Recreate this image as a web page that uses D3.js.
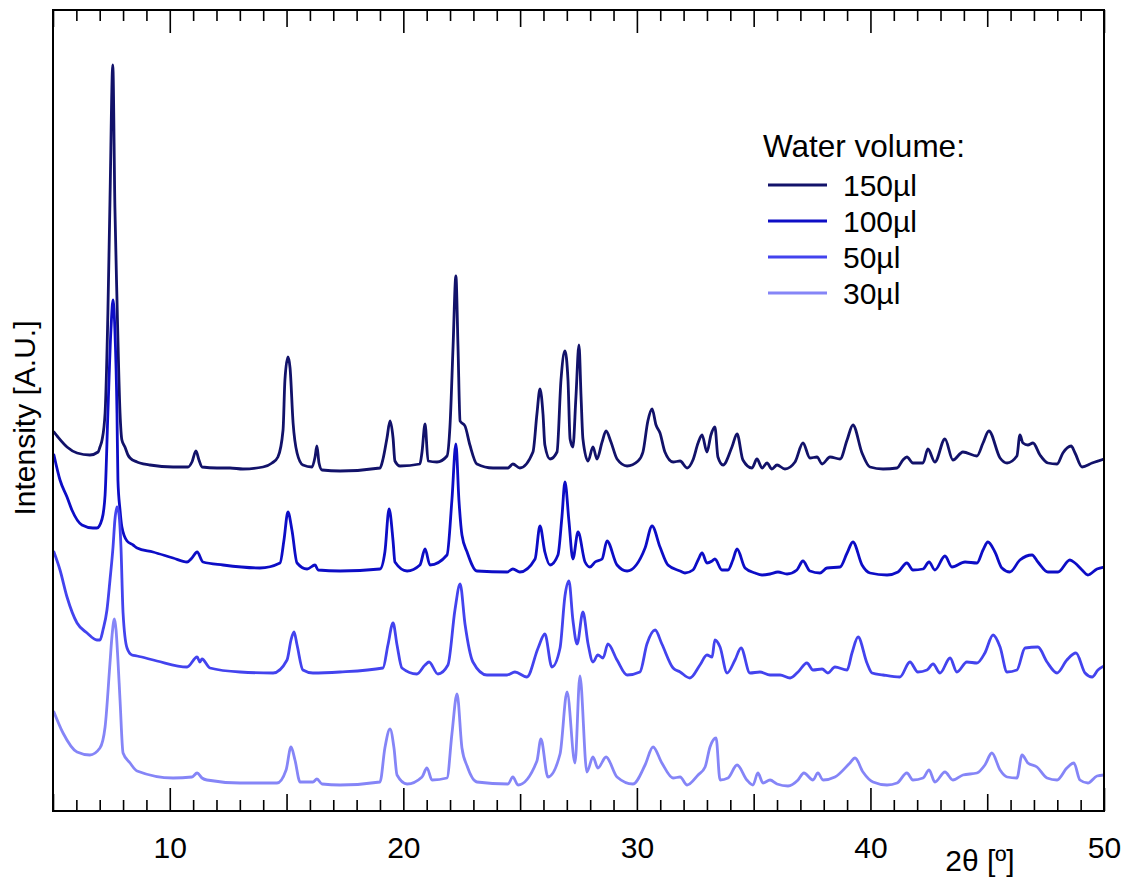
<!DOCTYPE html>
<html>
<head>
<meta charset="utf-8">
<script src="https://cdn.jsdelivr.net/npm/d3@7"></script>
<style>
  html, body { margin: 0; padding: 0; background: #fff; }
  svg { display: block; font-family: "Liberation Sans", Arial, sans-serif; }
</style>
</head>
<body>
<svg id="chart" width="1128" height="877"></svg>
<script>
// XRD patterns (2θ in degrees, intensity in a.u., stacked with offsets)
const s150 = [
[5.04,379],[5.21,374],[5.60,364],[6.03,358],[6.58,356],[6.93,359],[7.01,364],[7.10,371],[7.23,398],[7.35,498],[7.44,611],[7.56,746],[7.65,604],[7.74,511],[7.87,398],[7.95,371],[8.08,364],[8.21,356],[8.30,353],[8.60,349],[8.72,348],[9.15,346],[10.14,344],[10.78,344],[10.95,349],[11.12,360],[11.25,351],[11.38,344],[12.02,343],[12.58,343],[13.13,342],[13.99,344],[14.38,348],[14.63,354],[14.85,381],[14.93,431],[15.06,454],[15.15,443],[15.28,388],[15.45,358],[15.70,346],[16.09,344],[16.22,354],[16.30,365],[16.39,348],[16.52,341],[17.29,340],[19.00,343],[19.13,352],[19.30,373],[19.43,390],[19.56,373],[19.64,350],[19.86,345],[20.71,347],[20.80,359],[20.93,387],[21.06,350],[21.44,349],[21.87,355],[22.00,386],[22.13,465],[22.25,535],[22.34,465],[22.43,390],[22.64,385],[22.85,366],[23.15,347],[23.84,343],[24.48,343],[24.69,347],[24.99,343],[25.55,359],[25.72,397],[25.85,422],[25.98,397],[26.06,366],[26.28,352],[26.58,359],[26.75,431],[26.92,460],[27.05,431],[27.14,372],[27.26,364],[27.39,414],[27.52,466],[27.61,414],[27.69,372],[27.91,350],[28.12,364],[28.29,352],[28.51,369],[28.68,380],[28.89,369],[29.15,352],[29.58,345],[30.05,350],[30.26,359],[30.47,390],[30.65,402],[30.82,386],[30.99,378],[31.20,359],[31.55,349],[31.85,350],[32.15,343],[32.40,351],[32.62,368],[32.79,376],[33.00,359],[33.17,376],[33.34,384],[33.47,354],[33.69,346],[34.07,364],[34.29,377],[34.54,351],[34.93,343],[35.14,352],[35.36,343],[35.57,348],[35.78,342],[36.00,346],[36.34,342],[36.77,349],[37.11,368],[37.41,353],[37.71,354],[37.93,347],[38.27,354],[38.70,352],[39.00,371],[39.25,386],[39.64,358],[39.98,344],[40.54,342],[41.14,343],[41.39,351],[41.56,354],[41.82,348],[42.25,348],[42.46,362],[42.76,349],[43.19,372],[43.53,351],[43.96,359],[44.56,355],[44.82,368],[45.07,380],[45.55,353],[45.85,348],[46.27,355],[46.40,376],[46.53,368],[46.74,366],[46.96,368],[47.26,356],[47.60,348],[47.99,347],[48.24,358],[48.59,365],[48.76,358],[49.06,344],[49.49,348],[50.00,352]
];

const s100 = [
[5.04,356],[5.30,331],[5.60,314],[5.81,301],[6.24,286],[6.71,283],[6.88,283],[7.10,292],[7.23,316],[7.35,398],[7.48,481],[7.57,511],[7.65,481],[7.74,398],[7.78,331],[7.87,301],[7.95,284],[8.17,270],[8.43,266],[8.60,263],[9.28,259],[10.14,253],[10.74,249],[10.95,253],[11.17,259],[11.42,249],[12.28,246],[13.86,243],[14.72,248],[14.89,271],[15.06,299],[15.23,281],[15.45,248],[15.88,242],[16.22,246],[16.35,241],[17.29,240],[19.00,242],[19.21,259],[19.39,302],[19.56,270],[19.64,249],[20.16,240],[20.71,246],[20.93,262],[21.14,246],[21.87,256],[22.08,311],[22.25,367],[22.38,311],[22.51,276],[22.73,259],[23.15,240],[24.44,239],[24.69,242],[24.99,239],[25.64,252],[25.85,285],[26.06,259],[26.28,246],[26.62,256],[26.79,294],[26.92,329],[27.09,290],[27.26,252],[27.48,279],[27.78,249],[27.99,244],[28.21,249],[28.51,252],[28.72,270],[29.15,246],[29.58,240],[30.35,263],[30.65,285],[30.99,264],[31.33,246],[31.85,240],[32.06,238],[32.40,241],[32.62,251],[32.79,258],[33.00,248],[33.22,250],[33.34,252],[33.64,241],[33.90,241],[34.11,251],[34.29,262],[34.63,243],[35.06,238],[35.36,236],[35.70,237],[36.04,239],[36.43,237],[36.85,241],[37.11,250],[37.41,240],[37.84,238],[38.14,243],[38.70,244],[39.00,258],[39.25,269],[39.64,246],[39.98,238],[40.71,236],[41.18,239],[41.56,248],[41.82,241],[42.25,242],[42.51,249],[42.76,241],[43.19,255],[43.49,244],[44.05,249],[44.56,248],[44.82,261],[45.03,269],[45.33,259],[45.63,243],[45.97,239],[46.40,251],[46.92,256],[47.17,249],[47.60,239],[48.03,239],[48.54,251],[48.76,248],[49.06,241],[49.31,236],[49.70,242],[50.00,244]
];

const s50 = [
[5.04,259],[5.30,241],[5.60,214],[6.03,188],[6.46,178],[6.88,171],[7.01,171],[7.14,181],[7.31,201],[7.44,231],[7.57,264],[7.65,291],[7.74,304],[7.83,296],[7.91,264],[8.00,198],[8.17,163],[8.38,156],[8.60,155],[9.45,150],[10.74,144],[11.17,154],[11.29,149],[11.38,152],[11.72,143],[13.01,139],[14.42,138],[15.02,151],[15.19,171],[15.32,179],[15.45,166],[15.70,141],[16.13,138],[17.29,139],[19.13,143],[19.34,166],[19.56,188],[19.73,166],[19.94,143],[20.58,137],[20.93,146],[21.10,149],[21.48,137],[21.91,146],[22.21,201],[22.43,227],[22.64,187],[22.98,149],[23.58,136],[24.44,136],[24.78,139],[25.29,134],[25.77,163],[26.06,177],[26.36,144],[26.71,163],[26.92,215],[27.09,230],[27.26,191],[27.44,167],[27.69,199],[27.91,167],[28.12,149],[28.33,156],[28.55,153],[28.76,167],[29.15,151],[29.58,136],[30.13,139],[30.43,167],[30.78,181],[31.07,167],[31.55,143],[31.85,139],[32.27,133],[32.70,146],[33.00,156],[33.22,154],[33.34,171],[33.56,164],[33.86,138],[34.20,151],[34.46,163],[34.84,138],[35.27,139],[35.70,136],[36.13,136],[36.56,133],[36.90,139],[37.28,148],[37.54,141],[37.93,142],[38.18,138],[38.48,144],[39.00,141],[39.21,158],[39.47,174],[39.85,148],[40.07,138],[40.54,136],[41.26,134],[41.69,149],[42.03,139],[42.42,141],[42.68,147],[42.98,138],[43.41,153],[43.70,139],[44.13,149],[44.56,148],[44.90,158],[45.25,176],[45.55,164],[45.85,139],[46.27,141],[46.62,163],[47.17,164],[47.56,149],[47.99,138],[48.41,151],[48.80,158],[49.19,138],[49.49,134],[49.74,141],[50.00,145]
];

const s30 = [
[5.04,99],[5.43,78],[6.03,59],[6.58,56],[7.01,63],[7.23,84],[7.44,148],[7.53,176],[7.63,192],[7.70,181],[7.78,151],[7.87,111],[8.00,58],[8.30,48],[8.60,40],[10.14,33],[10.95,34],[11.17,38],[11.38,33],[11.59,31],[13.01,28],[14.59,28],[14.98,41],[15.19,64],[15.36,51],[15.58,29],[16.13,29],[16.30,32],[16.52,27],[17.29,26],[19.00,29],[19.21,63],[19.43,82],[19.60,63],[19.73,36],[20.16,27],[20.80,34],[21.01,43],[21.23,31],[21.87,33],[22.08,77],[22.30,117],[22.51,63],[22.73,45],[23.15,29],[24.48,27],[24.69,34],[24.91,26],[25.72,50],[25.89,72],[26.19,34],[26.71,57],[27.01,119],[27.35,48],[27.56,135],[27.86,39],[28.12,54],[28.33,43],[28.68,54],[29.15,34],[29.83,27],[30.35,46],[30.69,64],[31.07,48],[31.55,33],[31.85,34],[32.15,26],[32.62,36],[32.92,44],[33.13,64],[33.39,73],[33.56,31],[33.90,33],[34.29,46],[34.71,31],[34.97,26],[35.18,38],[35.40,28],[35.70,31],[36.00,27],[36.47,25],[36.90,31],[37.15,38],[37.54,31],[37.75,38],[37.97,31],[38.48,34],[39.12,48],[39.34,53],[39.68,39],[40.11,29],[40.71,26],[41.14,28],[41.56,38],[41.82,31],[42.25,33],[42.51,41],[42.76,29],[43.19,39],[43.53,31],[43.96,36],[44.56,38],[44.90,46],[45.20,58],[45.55,41],[45.85,34],[46.27,33],[46.49,56],[46.74,48],[47.13,44],[47.56,33],[47.99,31],[48.41,43],[48.71,48],[48.97,31],[49.31,28],[49.70,35],[50.00,36]
];

const seriesNames = ["150µl", "100µl", "50µl", "30µl"];
const seriesData = [s150, s100, s50, s30];
const seriesColors = ["#12126a", "#0d0dc6", "#4343ee", "#8585f7"];

const majorTicks = [10, 20, 30, 40, 50];
const mediumTicks = [5, 15, 25, 35, 45];
const minorTicks = d3.range(6, 50).filter(v => v % 5 !== 0);

const legendTitle = "Water volume:";
const xLabel = "2θ [º]";
const yLabel = "Intensity [A.U.]";

// layout
const W = 1128, H = 877;
const plot = { left: 53, right: 1104, top: 10, bottom: 811 };
const fontSize = 30;

const svg = d3.select("#chart");

const x = d3.scaleLinear().domain([5, 50]).range([plot.left, plot.right]);
const y = d3.scaleLinear().domain([0, 801]).range([plot.bottom, plot.top]);

svg.append("defs").append("clipPath").attr("id", "plotclip")
  .append("rect")
  .attr("x", plot.left).attr("y", plot.top)
  .attr("width", plot.right - plot.left).attr("height", plot.bottom - plot.top);

// traces
const line = d3.line()
  .x(d => x(d[0]))
  .y(d => y(d[1]))
  .curve(d3.curveMonotoneX);

const traces = svg.append("g").attr("clip-path", "url(#plotclip)");
seriesData.forEach((data, i) => {
  traces.append("path")
    .datum(data)
    .attr("fill", "none")
    .attr("stroke", seriesColors[i])
    .attr("stroke-width", 2.8)
    .attr("stroke-linejoin", "round")
    .attr("stroke-linecap", "round")
    .attr("d", line);
});

// axes: inward ticks on bottom and mirrored on top
function tickLayer(axisFn, yPos, values, size, labels) {
  const ax = axisFn(x).tickValues(values).tickSize(-size).tickPadding(26);
  if (!labels) ax.tickFormat("");
  const g = svg.append("g").attr("transform", `translate(0,${yPos})`).call(ax);
  g.select(".domain").remove();
  g.selectAll(".tick line").attr("stroke", "#000").attr("stroke-width", 1.6);
  g.selectAll(".tick text")
    .attr("fill", "#000")
    .style("font-size", fontSize + "px")
    .style("font-family", "'Liberation Sans', Arial, sans-serif");
  return g;
}
tickLayer(d3.axisBottom, plot.bottom, majorTicks, 23, true);
tickLayer(d3.axisBottom, plot.bottom, mediumTicks, 17, false);
tickLayer(d3.axisBottom, plot.bottom, minorTicks, 11, false);
tickLayer(d3.axisTop, plot.top, majorTicks, 23, false);
tickLayer(d3.axisTop, plot.top, mediumTicks, 17, false);
tickLayer(d3.axisTop, plot.top, minorTicks, 11, false);

// frame
svg.append("rect")
  .attr("x", plot.left).attr("y", plot.top)
  .attr("width", plot.right - plot.left).attr("height", plot.bottom - plot.top)
  .attr("fill", "none").attr("stroke", "#000").attr("stroke-width", 2);

// axis titles
svg.append("text")
  .attr("x", 980).attr("y", 871)
  .attr("text-anchor", "middle")
  .style("font-size", fontSize + "px")
  .attr("fill", "#000")
  .text(xLabel);

svg.append("text")
  .attr("transform", "translate(35,418) rotate(-90)")
  .attr("text-anchor", "middle")
  .style("font-size", fontSize + "px")
  .attr("fill", "#000")
  .text(yLabel);

// legend
const legend = svg.append("g");
legend.append("text")
  .attr("x", 763).attr("y", 157)
  .style("font-size", "31.5px")
  .attr("fill", "#000")
  .text(legendTitle);

seriesNames.forEach((name, i) => {
  const cy = 185 + i * 36;
  legend.append("line")
    .attr("x1", 768).attr("x2", 827)
    .attr("y1", cy).attr("y2", cy)
    .attr("stroke", seriesColors[i]).attr("stroke-width", 2.8);
  legend.append("text")
    .attr("x", 843).attr("y", cy + 11)
    .style("font-size", fontSize + "px")
    .attr("fill", "#000")
    .text(name);
});
</script>
</body>
</html>
